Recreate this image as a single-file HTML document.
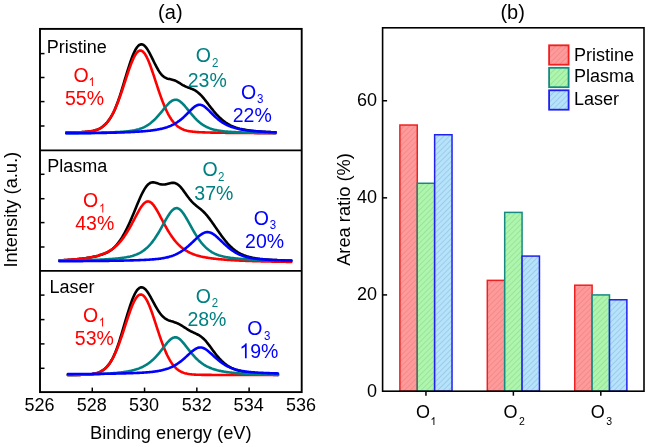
<!DOCTYPE html>
<html><head><meta charset="utf-8"><style>
html,body{margin:0;padding:0;background:#fff;}
body{width:648px;height:447px;overflow:hidden;font-family:"Liberation Sans",sans-serif;}
svg{display:block;will-change:transform;}
</style></head><body>
<svg width="648" height="447" viewBox="0 0 648 447" font-family="Liberation Sans, sans-serif">
<defs>
<pattern id="hr" patternUnits="userSpaceOnUse" width="3.9" height="3.9" patternTransform="rotate(45)"><rect width="3.9" height="3.9" fill="#ff9a9a"/><line x1="0.5" y1="0" x2="0.5" y2="3.9" stroke="#ee8888" stroke-width="0.8"/></pattern>
<pattern id="hg" patternUnits="userSpaceOnUse" width="3.9" height="3.9" patternTransform="rotate(45)"><rect width="3.9" height="3.9" fill="#aef5ae"/><line x1="0.5" y1="0" x2="0.5" y2="3.9" stroke="#96df96" stroke-width="0.8"/></pattern>
<pattern id="hb" patternUnits="userSpaceOnUse" width="3.9" height="3.9" patternTransform="rotate(45)"><rect width="3.9" height="3.9" fill="#b6e3fb"/><line x1="0.5" y1="0" x2="0.5" y2="3.9" stroke="#96c6e6" stroke-width="0.8"/></pattern>
</defs>
<rect width="648" height="447" fill="#fff"/>
<path d="M66.30,132.66 L67.18,132.64 L68.05,132.62 L68.93,132.61 L69.80,132.59 L70.68,132.57 L71.55,132.54 L72.43,132.52 L73.31,132.50 L74.18,132.47 L75.06,132.45 L75.93,132.42 L76.81,132.39 L77.68,132.36 L78.56,132.33 L79.44,132.29 L80.31,132.25 L81.19,132.21 L82.06,132.16 L82.94,132.11 L83.81,132.05 L84.69,131.99 L85.57,131.92 L86.44,131.84 L87.32,131.76 L88.19,131.66 L89.07,131.55 L89.94,131.43 L90.82,131.29 L91.70,131.14 L92.57,130.97 L93.45,130.77 L94.32,130.55 L95.20,130.31 L96.07,130.03 L96.95,129.73 L97.83,129.38 L98.70,129.00 L99.58,128.57 L100.45,128.09 L101.33,127.56 L102.21,126.97 L103.08,126.32 L103.96,125.60 L104.83,124.81 L105.71,123.94 L106.58,123.00 L107.46,121.97 L108.34,120.85 L109.21,119.65 L110.09,118.35 L110.96,116.95 L111.84,115.44 L112.71,113.82 L113.59,112.08 L114.47,110.22 L115.34,108.22 L116.22,106.09 L117.09,103.84 L117.97,101.45 L118.84,98.94 L119.72,96.32 L120.60,93.60 L121.47,90.80 L122.35,87.93 L123.22,85.04 L124.10,82.13 L124.97,79.22 L125.85,76.31 L126.73,73.42 L127.60,70.57 L128.48,67.77 L129.35,65.05 L130.23,62.42 L131.10,59.91 L131.98,57.53 L132.86,55.31 L133.73,53.25 L134.61,51.38 L135.48,49.70 L136.36,48.24 L137.23,47.00 L138.11,45.99 L138.99,45.22 L139.86,44.69 L140.74,44.40 L141.61,44.34 L142.49,44.52 L143.36,44.92 L144.24,45.53 L145.12,46.35 L145.99,47.36 L146.87,48.54 L147.74,49.87 L148.62,51.33 L149.49,52.91 L150.37,54.57 L151.25,56.30 L152.12,58.08 L153.00,59.88 L153.87,61.69 L154.75,63.47 L155.62,65.20 L156.50,66.88 L157.38,68.48 L158.25,69.99 L159.13,71.39 L160.00,72.67 L160.88,73.82 L161.75,74.85 L162.63,75.74 L163.51,76.50 L164.38,77.14 L165.26,77.66 L166.13,78.08 L167.01,78.41 L167.88,78.68 L168.76,78.89 L169.64,79.07 L170.51,79.24 L171.39,79.43 L172.26,79.64 L173.14,79.88 L174.02,80.17 L174.89,80.52 L175.77,80.92 L176.64,81.36 L177.52,81.84 L178.39,82.36 L179.27,82.90 L180.15,83.44 L181.02,83.99 L181.90,84.52 L182.77,85.03 L183.65,85.51 L184.52,85.96 L185.40,86.39 L186.28,86.78 L187.15,87.14 L188.03,87.48 L188.90,87.81 L189.78,88.13 L190.65,88.45 L191.53,88.78 L192.41,89.14 L193.28,89.53 L194.16,89.95 L195.03,90.43 L195.91,90.96 L196.78,91.55 L197.66,92.20 L198.54,92.92 L199.41,93.71 L200.29,94.55 L201.16,95.46 L202.04,96.41 L202.91,97.42 L203.79,98.46 L204.67,99.54 L205.54,100.65 L206.42,101.77 L207.29,102.91 L208.17,104.06 L209.04,105.20 L209.92,106.34 L210.80,107.47 L211.67,108.58 L212.55,109.68 L213.42,110.75 L214.30,111.80 L215.17,112.82 L216.05,113.81 L216.93,114.77 L217.80,115.69 L218.68,116.59 L219.55,117.45 L220.43,118.27 L221.30,119.06 L222.18,119.82 L223.06,120.54 L223.93,121.22 L224.81,121.88 L225.68,122.50 L226.56,123.08 L227.43,123.64 L228.31,124.16 L229.19,124.65 L230.06,125.12 L230.94,125.56 L231.81,125.97 L232.69,126.35 L233.56,126.72 L234.44,127.06 L235.32,127.38 L236.19,127.68 L237.07,127.96 L237.94,128.22 L238.82,128.46 L239.69,128.70 L240.57,128.91 L241.45,129.11 L242.32,129.30 L243.20,129.48 L244.07,129.65 L244.95,129.81 L245.83,129.96 L246.70,130.10 L247.58,130.23 L248.45,130.35 L249.33,130.47 L250.20,130.58 L251.08,130.69 L251.96,130.79 L252.83,130.89 L253.71,130.98 L254.58,131.07 L255.46,131.15 L256.33,131.23 L257.21,131.31 L258.09,131.38 L258.96,131.45 L259.84,131.52 L260.71,131.58 L261.59,131.65 L262.46,131.71 L263.34,131.77 L264.22,131.82 L265.09,131.88 L265.97,131.93 L266.84,131.98 L267.72,132.03 L268.59,132.08 L269.47,132.13 L270.35,132.17 L271.22,132.21 L272.10,132.26 L272.97,132.30 L273.85,132.34 L274.72,132.38 L275.60,132.42" stroke="#000" stroke-width="2.6" fill="none" stroke-linejoin="round" stroke-linecap="round"/>
<path d="M66.30,132.66 L67.18,132.64 L68.05,132.62 L68.93,132.61 L69.80,132.59 L70.68,132.57 L71.55,132.54 L72.43,132.52 L73.31,132.50 L74.18,132.47 L75.06,132.45 L75.93,132.42 L76.81,132.39 L77.68,132.36 L78.56,132.33 L79.44,132.29 L80.31,132.25 L81.19,132.21 L82.06,132.16 L82.94,132.11 L83.81,132.05 L84.69,131.99 L85.57,131.92 L86.44,131.84 L87.32,131.76 L88.19,131.66 L89.07,131.55 L89.94,131.43 L90.82,131.29 L91.70,131.14 L92.57,130.97 L93.45,130.77 L94.32,130.55 L95.20,130.31 L96.07,130.03 L96.95,129.73 L97.83,129.38 L98.70,129.00 L99.58,128.57 L100.45,128.09 L101.33,127.56 L102.21,126.97 L103.08,126.32 L103.96,125.60 L104.83,124.81 L105.71,123.94 L106.58,123.00 L107.46,121.97 L108.34,120.85 L109.21,119.64 L110.09,118.33 L110.96,116.92 L111.84,115.42 L112.71,113.81 L113.59,112.09 L114.47,110.27 L115.34,108.35 L116.22,106.33 L117.09,104.20 L117.97,101.99 L118.84,99.68 L119.72,97.29 L120.60,94.83 L121.47,92.30 L122.35,89.72 L123.22,87.09 L124.10,84.43 L124.97,81.75 L125.85,79.07 L126.73,76.40 L127.60,73.77 L128.48,71.18 L129.35,68.67 L130.23,66.23 L131.10,63.91 L131.98,61.71 L132.86,59.66 L133.73,57.77 L134.61,56.07 L135.48,54.57 L136.36,53.29 L137.23,52.24 L138.11,51.44 L138.99,50.89 L139.86,50.60 L140.74,50.58 L141.61,50.82 L142.49,51.32 L143.36,52.08 L144.24,53.09 L145.12,54.33 L145.99,55.79 L146.87,57.46 L147.74,59.32 L148.62,61.34 L149.49,63.52 L150.37,65.82 L151.25,68.23 L152.12,70.74 L153.00,73.31 L153.87,75.94 L154.75,78.60 L155.62,81.28 L156.50,83.96 L157.38,86.62 L158.25,89.26 L159.13,91.85 L160.00,94.39 L160.88,96.87 L161.75,99.27 L162.63,101.59 L163.51,103.82 L164.38,105.96 L165.26,108.00 L166.13,109.94 L167.01,111.78 L167.88,113.51 L168.76,115.14 L169.64,116.67 L170.51,118.09 L171.39,119.42 L172.26,120.65 L173.14,121.78 L174.02,122.83 L174.89,123.79 L175.77,124.66 L176.64,125.47 L177.52,126.20 L178.39,126.86 L179.27,127.46 L180.15,128.00 L181.02,128.49 L181.90,128.92 L182.77,129.32 L183.65,129.67 L184.52,129.98 L185.40,130.26 L186.28,130.51 L187.15,130.74 L188.03,130.93 L188.90,131.11 L189.78,131.27 L190.65,131.41 L191.53,131.53 L192.41,131.64 L193.28,131.74 L194.16,131.83 L195.03,131.91 L195.91,131.98 L196.78,132.04 L197.66,132.10 L198.54,132.15 L199.41,132.20 L200.29,132.24 L201.16,132.28 L202.04,132.32 L202.91,132.35 L203.79,132.39 L204.67,132.42 L205.54,132.44 L206.42,132.47 L207.29,132.50 L208.17,132.52 L209.04,132.54 L209.92,132.56 L210.80,132.58 L211.67,132.60 L212.55,132.62 L213.42,132.64 L214.30,132.66 L215.17,132.67 L216.05,132.69 L216.93,132.70 L217.80,132.72 L218.68,132.73 L219.55,132.75 L220.43,132.76 L221.30,132.77 L222.18,132.79 L223.06,132.80 L223.93,132.81 L224.81,132.82 L225.68,132.83 L226.56,132.85 L227.43,132.86 L228.31,132.87 L229.19,132.88 L230.06,132.89 L230.94,132.90 L231.81,132.90 L232.69,132.91 L233.56,132.92 L234.44,132.93 L235.32,132.94 L236.19,132.95 L237.07,132.96 L237.94,132.96 L238.82,132.97 L239.69,132.98 L240.57,132.98 L241.45,132.99 L242.32,133.00 L243.20,133.00 L244.07,133.01 L244.95,133.02 L245.83,133.02 L246.70,133.03 L247.58,133.04 L248.45,133.04 L249.33,133.05 L250.20,133.05 L251.08,133.06 L251.96,133.06 L252.83,133.07 L253.71,133.07 L254.58,133.08 L255.46,133.08 L256.33,133.09 L257.21,133.09 L258.09,133.10 L258.96,133.10 L259.84,133.10 L260.71,133.11 L261.59,133.11 L262.46,133.12 L263.34,133.12 L264.22,133.12 L265.09,133.13 L265.97,133.13 L266.84,133.14 L267.72,133.14 L268.59,133.14 L269.47,133.15 L270.35,133.15 L271.22,133.15 L272.10,133.16 L272.97,133.16 L273.85,133.16 L274.72,133.17 L275.60,133.17" stroke="#ff0000" stroke-width="2.6" fill="none" stroke-linejoin="round" stroke-linecap="round"/>
<path d="M66.30,133.21 L67.18,133.20 L68.05,133.19 L68.93,133.18 L69.80,133.17 L70.68,133.16 L71.55,133.16 L72.43,133.15 L73.31,133.14 L74.18,133.13 L75.06,133.12 L75.93,133.11 L76.81,133.10 L77.68,133.09 L78.56,133.08 L79.44,133.07 L80.31,133.06 L81.19,133.04 L82.06,133.03 L82.94,133.02 L83.81,133.01 L84.69,133.00 L85.57,132.98 L86.44,132.97 L87.32,132.96 L88.19,132.94 L89.07,132.93 L89.94,132.91 L90.82,132.90 L91.70,132.88 L92.57,132.86 L93.45,132.85 L94.32,132.83 L95.20,132.81 L96.07,132.79 L96.95,132.77 L97.83,132.75 L98.70,132.73 L99.58,132.71 L100.45,132.69 L101.33,132.67 L102.21,132.64 L103.08,132.62 L103.96,132.59 L104.83,132.57 L105.71,132.54 L106.58,132.51 L107.46,132.49 L108.34,132.46 L109.21,132.43 L110.09,132.39 L110.96,132.36 L111.84,132.32 L112.71,132.29 L113.59,132.25 L114.47,132.21 L115.34,132.17 L116.22,132.13 L117.09,132.08 L117.97,132.03 L118.84,131.98 L119.72,131.93 L120.60,131.88 L121.47,131.82 L122.35,131.76 L123.22,131.69 L124.10,131.62 L124.97,131.54 L125.85,131.46 L126.73,131.38 L127.60,131.29 L128.48,131.19 L129.35,131.08 L130.23,130.97 L131.10,130.84 L131.98,130.71 L132.86,130.56 L133.73,130.41 L134.61,130.24 L135.48,130.05 L136.36,129.85 L137.23,129.63 L138.11,129.39 L138.99,129.14 L139.86,128.86 L140.74,128.56 L141.61,128.23 L142.49,127.88 L143.36,127.50 L144.24,127.09 L145.12,126.65 L145.99,126.18 L146.87,125.67 L147.74,125.13 L148.62,124.56 L149.49,123.94 L150.37,123.29 L151.25,122.60 L152.12,121.87 L153.00,121.10 L153.87,120.29 L154.75,119.45 L155.62,118.57 L156.50,117.65 L157.38,116.70 L158.25,115.72 L159.13,114.71 L160.00,113.68 L160.88,112.63 L161.75,111.56 L162.63,110.49 L163.51,109.41 L164.38,108.34 L165.26,107.28 L166.13,106.25 L167.01,105.25 L167.88,104.29 L168.76,103.40 L169.64,102.57 L170.51,101.83 L171.39,101.19 L172.26,100.64 L173.14,100.22 L174.02,99.92 L174.89,99.75 L175.77,99.71 L176.64,99.81 L177.52,100.04 L178.39,100.40 L179.27,100.88 L180.15,101.48 L181.02,102.17 L181.90,102.95 L182.77,103.81 L183.65,104.73 L184.52,105.71 L185.40,106.73 L186.28,107.77 L187.15,108.84 L188.03,109.91 L188.90,110.99 L189.78,112.06 L190.65,113.12 L191.53,114.17 L192.41,115.19 L193.28,116.18 L194.16,117.15 L195.03,118.09 L195.91,118.99 L196.78,119.85 L197.66,120.68 L198.54,121.46 L199.41,122.22 L200.29,122.93 L201.16,123.60 L202.04,124.23 L202.91,124.83 L203.79,125.39 L204.67,125.92 L205.54,126.41 L206.42,126.86 L207.29,127.29 L208.17,127.68 L209.04,128.05 L209.92,128.39 L210.80,128.70 L211.67,128.99 L212.55,129.26 L213.42,129.51 L214.30,129.74 L215.17,129.95 L216.05,130.14 L216.93,130.32 L217.80,130.48 L218.68,130.63 L219.55,130.77 L220.43,130.90 L221.30,131.02 L222.18,131.13 L223.06,131.23 L223.93,131.33 L224.81,131.42 L225.68,131.50 L226.56,131.58 L227.43,131.65 L228.31,131.72 L229.19,131.78 L230.06,131.85 L230.94,131.90 L231.81,131.96 L232.69,132.01 L233.56,132.06 L234.44,132.10 L235.32,132.15 L236.19,132.19 L237.07,132.23 L237.94,132.27 L238.82,132.31 L239.69,132.34 L240.57,132.38 L241.45,132.41 L242.32,132.44 L243.20,132.47 L244.07,132.50 L244.95,132.53 L245.83,132.55 L246.70,132.58 L247.58,132.61 L248.45,132.63 L249.33,132.65 L250.20,132.68 L251.08,132.70 L251.96,132.72 L252.83,132.74 L253.71,132.76 L254.58,132.78 L255.46,132.80 L256.33,132.82 L257.21,132.84 L258.09,132.85 L258.96,132.87 L259.84,132.89 L260.71,132.90 L261.59,132.92 L262.46,132.93 L263.34,132.95 L264.22,132.96 L265.09,132.98 L265.97,132.99 L266.84,133.00 L267.72,133.01 L268.59,133.03 L269.47,133.04 L270.35,133.05 L271.22,133.06 L272.10,133.07 L272.97,133.08 L273.85,133.09 L274.72,133.10 L275.60,133.11" stroke="#008080" stroke-width="2.6" fill="none" stroke-linejoin="round" stroke-linecap="round"/>
<path d="M66.30,133.32 L67.18,133.32 L68.05,133.31 L68.93,133.30 L69.80,133.30 L70.68,133.29 L71.55,133.28 L72.43,133.28 L73.31,133.27 L74.18,133.26 L75.06,133.25 L75.93,133.25 L76.81,133.24 L77.68,133.23 L78.56,133.22 L79.44,133.21 L80.31,133.20 L81.19,133.20 L82.06,133.19 L82.94,133.18 L83.81,133.17 L84.69,133.16 L85.57,133.15 L86.44,133.14 L87.32,133.13 L88.19,133.12 L89.07,133.11 L89.94,133.10 L90.82,133.09 L91.70,133.07 L92.57,133.06 L93.45,133.05 L94.32,133.04 L95.20,133.02 L96.07,133.01 L96.95,133.00 L97.83,132.98 L98.70,132.97 L99.58,132.96 L100.45,132.94 L101.33,132.93 L102.21,132.91 L103.08,132.90 L103.96,132.88 L104.83,132.86 L105.71,132.85 L106.58,132.83 L107.46,132.81 L108.34,132.79 L109.21,132.77 L110.09,132.75 L110.96,132.73 L111.84,132.71 L112.71,132.69 L113.59,132.67 L114.47,132.65 L115.34,132.62 L116.22,132.60 L117.09,132.57 L117.97,132.55 L118.84,132.52 L119.72,132.50 L120.60,132.47 L121.47,132.44 L122.35,132.41 L123.22,132.38 L124.10,132.35 L124.97,132.31 L125.85,132.28 L126.73,132.25 L127.60,132.21 L128.48,132.17 L129.35,132.13 L130.23,132.09 L131.10,132.05 L131.98,132.01 L132.86,131.97 L133.73,131.92 L134.61,131.87 L135.48,131.82 L136.36,131.77 L137.23,131.72 L138.11,131.66 L138.99,131.61 L139.86,131.55 L140.74,131.48 L141.61,131.42 L142.49,131.35 L143.36,131.28 L144.24,131.21 L145.12,131.13 L145.99,131.05 L146.87,130.97 L147.74,130.88 L148.62,130.79 L149.49,130.69 L150.37,130.59 L151.25,130.48 L152.12,130.37 L153.00,130.25 L153.87,130.13 L154.75,130.00 L155.62,129.86 L156.50,129.72 L157.38,129.57 L158.25,129.40 L159.13,129.23 L160.00,129.05 L160.88,128.86 L161.75,128.66 L162.63,128.45 L163.51,128.22 L164.38,127.98 L165.26,127.72 L166.13,127.45 L167.01,127.17 L167.88,126.86 L168.76,126.54 L169.64,126.19 L170.51,125.83 L171.39,125.44 L172.26,125.03 L173.14,124.60 L174.02,124.14 L174.89,123.66 L175.77,123.14 L176.64,122.60 L177.52,122.03 L178.39,121.43 L179.27,120.80 L180.15,120.13 L181.02,119.44 L181.90,118.71 L182.77,117.96 L183.65,117.17 L184.52,116.35 L185.40,115.51 L186.28,114.65 L187.15,113.77 L188.03,112.88 L188.90,111.99 L189.78,111.09 L190.65,110.21 L191.53,109.36 L192.41,108.54 L193.28,107.76 L194.16,107.05 L195.03,106.42 L195.91,105.87 L196.78,105.42 L197.66,105.09 L198.54,104.87 L199.41,104.78 L200.29,104.82 L201.16,104.98 L202.04,105.26 L202.91,105.66 L203.79,106.16 L204.67,106.76 L205.54,107.44 L206.42,108.19 L207.29,108.99 L208.17,109.83 L209.04,110.70 L209.92,111.59 L210.80,112.48 L211.67,113.38 L212.55,114.26 L213.42,115.13 L214.30,115.98 L215.17,116.81 L216.05,117.61 L216.93,118.38 L217.80,119.12 L218.68,119.83 L219.55,120.51 L220.43,121.15 L221.30,121.77 L222.18,122.35 L223.06,122.91 L223.93,123.43 L224.81,123.93 L225.68,124.40 L226.56,124.85 L227.43,125.26 L228.31,125.66 L229.19,126.03 L230.06,126.39 L230.94,126.72 L231.81,127.03 L232.69,127.33 L233.56,127.61 L234.44,127.87 L235.32,128.11 L236.19,128.35 L237.07,128.57 L237.94,128.77 L238.82,128.97 L239.69,129.16 L240.57,129.33 L241.45,129.50 L242.32,129.65 L243.20,129.80 L244.07,129.94 L244.95,130.07 L245.83,130.20 L246.70,130.32 L247.58,130.43 L248.45,130.54 L249.33,130.65 L250.20,130.74 L251.08,130.84 L251.96,130.93 L252.83,131.01 L253.71,131.09 L254.58,131.17 L255.46,131.25 L256.33,131.32 L257.21,131.39 L258.09,131.45 L258.96,131.52 L259.84,131.58 L260.71,131.64 L261.59,131.69 L262.46,131.75 L263.34,131.80 L264.22,131.85 L265.09,131.90 L265.97,131.95 L266.84,131.99 L267.72,132.03 L268.59,132.08 L269.47,132.12 L270.35,132.16 L271.22,132.19 L272.10,132.23 L272.97,132.27 L273.85,132.30 L274.72,132.33 L275.60,132.36" stroke="#0000ff" stroke-width="2.6" fill="none" stroke-linejoin="round" stroke-linecap="round"/>
<path d="M59.40,260.43 L60.37,260.38 L61.34,260.32 L62.31,260.27 L63.28,260.21 L64.25,260.15 L65.22,260.09 L66.19,260.03 L67.16,259.97 L68.13,259.90 L69.10,259.83 L70.07,259.76 L71.04,259.69 L72.01,259.61 L72.98,259.53 L73.95,259.45 L74.92,259.37 L75.89,259.28 L76.87,259.19 L77.84,259.09 L78.81,258.99 L79.78,258.89 L80.75,258.78 L81.72,258.67 L82.69,258.56 L83.66,258.43 L84.63,258.31 L85.60,258.17 L86.57,258.03 L87.54,257.89 L88.51,257.73 L89.48,257.57 L90.45,257.40 L91.42,257.22 L92.39,257.04 L93.36,256.84 L94.33,256.63 L95.30,256.40 L96.27,256.17 L97.24,255.91 L98.21,255.65 L99.18,255.36 L100.15,255.06 L101.12,254.75 L102.09,254.42 L103.06,254.08 L104.03,253.72 L105.00,253.34 L105.97,252.93 L106.94,252.48 L107.91,251.99 L108.88,251.45 L109.86,250.85 L110.83,250.20 L111.80,249.47 L112.77,248.67 L113.74,247.80 L114.71,246.85 L115.68,245.83 L116.65,244.75 L117.62,243.59 L118.59,242.36 L119.56,241.05 L120.53,239.66 L121.50,238.19 L122.47,236.63 L123.44,234.99 L124.41,233.27 L125.38,231.47 L126.35,229.59 L127.32,227.63 L128.29,225.60 L129.26,223.50 L130.23,221.34 L131.20,219.12 L132.17,216.85 L133.14,214.54 L134.11,212.19 L135.08,209.83 L136.05,207.47 L137.02,205.11 L137.99,202.77 L138.96,200.48 L139.93,198.24 L140.90,196.09 L141.87,194.03 L142.85,192.09 L143.82,190.30 L144.79,188.65 L145.76,187.19 L146.73,185.91 L147.70,184.82 L148.67,183.94 L149.64,183.26 L150.61,182.77 L151.58,182.47 L152.55,182.34 L153.52,182.35 L154.49,182.47 L155.46,182.69 L156.43,182.98 L157.40,183.29 L158.37,183.61 L159.34,183.91 L160.31,184.16 L161.28,184.36 L162.25,184.48 L163.22,184.52 L164.19,184.48 L165.16,184.37 L166.13,184.20 L167.10,183.97 L168.07,183.72 L169.04,183.46 L170.01,183.21 L170.98,183.01 L171.95,182.87 L172.92,182.82 L173.89,182.88 L174.86,183.07 L175.84,183.39 L176.81,183.86 L177.78,184.49 L178.75,185.25 L179.72,186.16 L180.69,187.19 L181.66,188.33 L182.63,189.57 L183.60,190.86 L184.57,192.20 L185.54,193.57 L186.51,194.93 L187.48,196.26 L188.45,197.56 L189.42,198.80 L190.39,199.98 L191.36,201.09 L192.33,202.13 L193.30,203.10 L194.27,204.00 L195.24,204.85 L196.21,205.66 L197.18,206.44 L198.15,207.21 L199.12,207.97 L200.09,208.75 L201.06,209.56 L202.03,210.41 L203.00,211.30 L203.97,212.24 L204.94,213.24 L205.91,214.30 L206.88,215.42 L207.85,216.59 L208.83,217.82 L209.80,219.09 L210.77,220.41 L211.74,221.76 L212.71,223.14 L213.68,224.53 L214.65,225.95 L215.62,227.37 L216.59,228.79 L217.56,230.21 L218.53,231.61 L219.50,233.00 L220.47,234.37 L221.44,235.71 L222.41,237.02 L223.38,238.29 L224.35,239.53 L225.32,240.73 L226.29,241.89 L227.26,243.01 L228.23,244.08 L229.20,245.10 L230.17,246.08 L231.14,247.01 L232.11,247.90 L233.08,248.74 L234.05,249.53 L235.02,250.28 L235.99,250.98 L236.96,251.64 L237.93,252.26 L238.90,252.84 L239.87,253.39 L240.84,253.89 L241.82,254.36 L242.79,254.80 L243.76,255.21 L244.73,255.58 L245.70,255.93 L246.67,256.26 L247.64,256.56 L248.61,256.84 L249.58,257.09 L250.55,257.33 L251.52,257.55 L252.49,257.75 L253.46,257.94 L254.43,258.12 L255.40,258.28 L256.37,258.43 L257.34,258.57 L258.31,258.70 L259.28,258.83 L260.25,258.94 L261.22,259.05 L262.19,259.15 L263.16,259.24 L264.13,259.33 L265.10,259.42 L266.07,259.50 L267.04,259.57 L268.01,259.64 L268.98,259.71 L269.95,259.78 L270.92,259.84 L271.89,259.90 L272.86,259.96 L273.83,260.01 L274.81,260.06 L275.78,260.11 L276.75,260.16 L277.72,260.21 L278.69,260.26 L279.66,260.30 L280.63,260.34 L281.60,260.38 L282.57,260.42 L283.54,260.46 L284.51,260.50 L285.48,260.54 L286.45,260.57 L287.42,260.61 L288.39,260.64 L289.36,260.67 L290.33,260.71 L291.30,260.74" stroke="#000" stroke-width="2.6" fill="none" stroke-linejoin="round" stroke-linecap="round"/>
<path d="M59.40,260.43 L60.37,260.38 L61.34,260.32 L62.31,260.27 L63.28,260.21 L64.25,260.15 L65.22,260.09 L66.19,260.03 L67.16,259.97 L68.13,259.90 L69.10,259.83 L70.07,259.76 L71.04,259.69 L72.01,259.61 L72.98,259.53 L73.95,259.45 L74.92,259.37 L75.89,259.28 L76.87,259.19 L77.84,259.09 L78.81,258.99 L79.78,258.89 L80.75,258.78 L81.72,258.67 L82.69,258.56 L83.66,258.43 L84.63,258.31 L85.60,258.17 L86.57,258.03 L87.54,257.89 L88.51,257.73 L89.48,257.57 L90.45,257.40 L91.42,257.22 L92.39,257.04 L93.36,256.84 L94.33,256.63 L95.30,256.40 L96.27,256.17 L97.24,255.91 L98.21,255.65 L99.18,255.36 L100.15,255.06 L101.12,254.74 L102.09,254.40 L103.06,254.03 L104.03,253.64 L105.00,253.23 L105.97,252.78 L106.94,252.31 L107.91,251.80 L108.88,251.26 L109.86,250.69 L110.83,250.07 L111.80,249.42 L112.77,248.72 L113.74,247.97 L114.71,247.18 L115.68,246.34 L116.65,245.45 L117.62,244.51 L118.59,243.50 L119.56,242.45 L120.53,241.33 L121.50,240.15 L122.47,238.91 L123.44,237.61 L124.41,236.25 L125.38,234.82 L126.35,233.33 L127.32,231.78 L128.29,230.18 L129.26,228.52 L130.23,226.81 L131.20,225.05 L132.17,223.25 L133.14,221.43 L134.11,219.58 L135.08,217.73 L136.05,215.88 L137.02,214.05 L137.99,212.26 L138.96,210.53 L139.93,208.89 L140.90,207.35 L141.87,205.94 L142.85,204.68 L143.82,203.60 L144.79,202.71 L145.76,202.05 L146.73,201.61 L147.70,201.41 L148.67,201.45 L149.64,201.74 L150.61,202.27 L151.58,203.02 L152.55,203.98 L153.52,205.13 L154.49,206.44 L155.46,207.91 L156.43,209.49 L157.40,211.17 L158.37,212.92 L159.34,214.72 L160.31,216.56 L161.28,218.42 L162.25,220.27 L163.22,222.11 L164.19,223.92 L165.16,225.71 L166.13,227.45 L167.10,229.14 L168.07,230.78 L169.04,232.37 L170.01,233.89 L170.98,235.36 L171.95,236.76 L172.92,238.10 L173.89,239.38 L174.86,240.59 L175.84,241.75 L176.81,242.84 L177.78,243.88 L178.75,244.86 L179.72,245.79 L180.69,246.66 L181.66,247.48 L182.63,248.26 L183.60,248.98 L184.57,249.66 L185.54,250.30 L186.51,250.91 L187.48,251.47 L188.45,252.00 L189.42,252.49 L190.39,252.95 L191.36,253.38 L192.33,253.79 L193.30,254.17 L194.27,254.53 L195.24,254.86 L196.21,255.18 L197.18,255.47 L198.15,255.75 L199.12,256.01 L200.09,256.25 L201.06,256.49 L202.03,256.70 L203.00,256.91 L203.97,257.11 L204.94,257.29 L205.91,257.47 L206.88,257.63 L207.85,257.79 L208.83,257.94 L209.80,258.09 L210.77,258.22 L211.74,258.36 L212.71,258.48 L213.68,258.60 L214.65,258.71 L215.62,258.82 L216.59,258.93 L217.56,259.03 L218.53,259.13 L219.50,259.22 L220.47,259.31 L221.44,259.40 L222.41,259.48 L223.38,259.56 L224.35,259.64 L225.32,259.72 L226.29,259.79 L227.26,259.86 L228.23,259.93 L229.20,259.99 L230.17,260.06 L231.14,260.12 L232.11,260.18 L233.08,260.23 L234.05,260.29 L235.02,260.34 L235.99,260.40 L236.96,260.45 L237.93,260.50 L238.90,260.54 L239.87,260.59 L240.84,260.63 L241.82,260.68 L242.79,260.72 L243.76,260.76 L244.73,260.80 L245.70,260.84 L246.67,260.88 L247.64,260.92 L248.61,260.95 L249.58,260.99 L250.55,261.02 L251.52,261.05 L252.49,261.09 L253.46,261.12 L254.43,261.15 L255.40,261.18 L256.37,261.21 L257.34,261.23 L258.31,261.26 L259.28,261.29 L260.25,261.31 L261.22,261.34 L262.19,261.37 L263.16,261.39 L264.13,261.41 L265.10,261.44 L266.07,261.46 L267.04,261.48 L268.01,261.50 L268.98,261.52 L269.95,261.54 L270.92,261.56 L271.89,261.58 L272.86,261.60 L273.83,261.62 L274.81,261.64 L275.78,261.66 L276.75,261.68 L277.72,261.69 L278.69,261.71 L279.66,261.73 L280.63,261.74 L281.60,261.76 L282.57,261.77 L283.54,261.79 L284.51,261.80 L285.48,261.82 L286.45,261.83 L287.42,261.85 L288.39,261.86 L289.36,261.87 L290.33,261.89 L291.30,261.90" stroke="#ff0000" stroke-width="2.6" fill="none" stroke-linejoin="round" stroke-linecap="round"/>
<path d="M59.40,260.70 L60.37,260.69 L61.34,260.67 L62.31,260.66 L63.28,260.64 L64.25,260.63 L65.22,260.61 L66.19,260.60 L67.16,260.58 L68.13,260.56 L69.10,260.55 L70.07,260.53 L71.04,260.51 L72.01,260.49 L72.98,260.47 L73.95,260.45 L74.92,260.43 L75.89,260.41 L76.87,260.39 L77.84,260.37 L78.81,260.35 L79.78,260.32 L80.75,260.30 L81.72,260.28 L82.69,260.25 L83.66,260.22 L84.63,260.20 L85.60,260.17 L86.57,260.14 L87.54,260.11 L88.51,260.08 L89.48,260.05 L90.45,260.02 L91.42,259.99 L92.39,259.95 L93.36,259.92 L94.33,259.88 L95.30,259.84 L96.27,259.80 L97.24,259.76 L98.21,259.72 L99.18,259.68 L100.15,259.63 L101.12,259.58 L102.09,259.54 L103.06,259.49 L104.03,259.43 L105.00,259.38 L105.97,259.32 L106.94,259.27 L107.91,259.20 L108.88,259.14 L109.86,259.07 L110.83,259.01 L111.80,258.93 L112.77,258.86 L113.74,258.78 L114.71,258.70 L115.68,258.61 L116.65,258.52 L117.62,258.42 L118.59,258.32 L119.56,258.21 L120.53,258.10 L121.50,257.98 L122.47,257.85 L123.44,257.71 L124.41,257.56 L125.38,257.41 L126.35,257.24 L127.32,257.06 L128.29,256.86 L129.26,256.65 L130.23,256.43 L131.20,256.18 L132.17,255.92 L133.14,255.63 L134.11,255.32 L135.08,254.98 L136.05,254.62 L137.02,254.22 L137.99,253.79 L138.96,253.33 L139.93,252.82 L140.90,252.28 L141.87,251.69 L142.85,251.05 L143.82,250.37 L144.79,249.63 L145.76,248.84 L146.73,247.99 L147.70,247.09 L148.67,246.12 L149.64,245.09 L150.61,244.00 L151.58,242.84 L152.55,241.62 L153.52,240.33 L154.49,238.98 L155.46,237.56 L156.43,236.09 L157.40,234.55 L158.37,232.97 L159.34,231.33 L160.31,229.65 L161.28,227.94 L162.25,226.20 L163.22,224.44 L164.19,222.68 L165.16,220.94 L166.13,219.22 L167.10,217.55 L168.07,215.95 L169.04,214.43 L170.01,213.03 L170.98,211.76 L171.95,210.65 L172.92,209.72 L173.89,208.99 L174.86,208.48 L175.84,208.20 L176.81,208.14 L177.78,208.33 L178.75,208.74 L179.72,209.38 L180.69,210.23 L181.66,211.26 L182.63,212.46 L183.60,213.81 L184.57,215.28 L185.54,216.84 L186.51,218.49 L187.48,220.19 L188.45,221.92 L189.42,223.68 L190.39,225.44 L191.36,227.18 L192.33,228.91 L193.30,230.61 L194.27,232.26 L195.24,233.87 L196.21,235.43 L197.18,236.93 L198.15,238.37 L199.12,239.75 L200.09,241.07 L201.06,242.32 L202.03,243.50 L203.00,244.62 L203.97,245.68 L204.94,246.68 L205.91,247.61 L206.88,248.48 L207.85,249.30 L208.83,250.06 L209.80,250.76 L210.77,251.42 L211.74,252.03 L212.71,252.59 L213.68,253.11 L214.65,253.59 L215.62,254.04 L216.59,254.45 L217.56,254.83 L218.53,255.18 L219.50,255.50 L220.47,255.79 L221.44,256.07 L222.41,256.32 L223.38,256.56 L224.35,256.77 L225.32,256.97 L226.29,257.16 L227.26,257.33 L228.23,257.50 L229.20,257.65 L230.17,257.79 L231.14,257.92 L232.11,258.05 L233.08,258.16 L234.05,258.27 L235.02,258.38 L235.99,258.48 L236.96,258.57 L237.93,258.66 L238.90,258.74 L239.87,258.82 L240.84,258.90 L241.82,258.98 L242.79,259.05 L243.76,259.11 L244.73,259.18 L245.70,259.24 L246.67,259.30 L247.64,259.36 L248.61,259.41 L249.58,259.46 L250.55,259.51 L251.52,259.56 L252.49,259.61 L253.46,259.66 L254.43,259.70 L255.40,259.74 L256.37,259.78 L257.34,259.82 L258.31,259.86 L259.28,259.90 L260.25,259.94 L261.22,259.97 L262.19,260.00 L263.16,260.04 L264.13,260.07 L265.10,260.10 L266.07,260.13 L267.04,260.16 L268.01,260.19 L268.98,260.21 L269.95,260.24 L270.92,260.27 L271.89,260.29 L272.86,260.31 L273.83,260.34 L274.81,260.36 L275.78,260.38 L276.75,260.40 L277.72,260.43 L278.69,260.45 L279.66,260.47 L280.63,260.49 L281.60,260.50 L282.57,260.52 L283.54,260.54 L284.51,260.56 L285.48,260.57 L286.45,260.59 L287.42,260.61 L288.39,260.62 L289.36,260.64 L290.33,260.65 L291.30,260.67" stroke="#008080" stroke-width="2.6" fill="none" stroke-linejoin="round" stroke-linecap="round"/>
<path d="M59.40,261.20 L60.37,261.20 L61.34,261.20 L62.31,261.19 L63.28,261.19 L64.25,261.18 L65.22,261.18 L66.19,261.17 L67.16,261.17 L68.13,261.16 L69.10,261.16 L70.07,261.15 L71.04,261.15 L72.01,261.14 L72.98,261.14 L73.95,261.13 L74.92,261.13 L75.89,261.12 L76.87,261.12 L77.84,261.11 L78.81,261.11 L79.78,261.10 L80.75,261.09 L81.72,261.09 L82.69,261.08 L83.66,261.07 L84.63,261.07 L85.60,261.06 L86.57,261.05 L87.54,261.04 L88.51,261.04 L89.48,261.03 L90.45,261.02 L91.42,261.01 L92.39,261.01 L93.36,261.00 L94.33,260.99 L95.30,260.98 L96.27,260.97 L97.24,260.96 L98.21,260.95 L99.18,260.94 L100.15,260.93 L101.12,260.92 L102.09,260.91 L103.06,260.90 L104.03,260.89 L105.00,260.88 L105.97,260.86 L106.94,260.85 L107.91,260.84 L108.88,260.83 L109.86,260.81 L110.83,260.80 L111.80,260.79 L112.77,260.77 L113.74,260.76 L114.71,260.74 L115.68,260.73 L116.65,260.71 L117.62,260.69 L118.59,260.68 L119.56,260.66 L120.53,260.64 L121.50,260.62 L122.47,260.60 L123.44,260.58 L124.41,260.56 L125.38,260.54 L126.35,260.52 L127.32,260.49 L128.29,260.47 L129.26,260.44 L130.23,260.42 L131.20,260.39 L132.17,260.37 L133.14,260.34 L134.11,260.31 L135.08,260.28 L136.05,260.25 L137.02,260.21 L137.99,260.18 L138.96,260.14 L139.93,260.10 L140.90,260.07 L141.87,260.02 L142.85,259.98 L143.82,259.94 L144.79,259.89 L145.76,259.84 L146.73,259.79 L147.70,259.73 L148.67,259.68 L149.64,259.61 L150.61,259.55 L151.58,259.48 L152.55,259.41 L153.52,259.33 L154.49,259.25 L155.46,259.16 L156.43,259.06 L157.40,258.96 L158.37,258.85 L159.34,258.73 L160.31,258.60 L161.28,258.46 L162.25,258.31 L163.22,258.15 L164.19,257.98 L165.16,257.79 L166.13,257.58 L167.10,257.36 L168.07,257.12 L169.04,256.87 L170.01,256.59 L170.98,256.29 L171.95,255.96 L172.92,255.62 L173.89,255.24 L174.86,254.84 L175.84,254.41 L176.81,253.96 L177.78,253.47 L178.75,252.95 L179.72,252.39 L180.69,251.81 L181.66,251.19 L182.63,250.54 L183.60,249.85 L184.57,249.14 L185.54,248.39 L186.51,247.61 L187.48,246.79 L188.45,245.96 L189.42,245.09 L190.39,244.20 L191.36,243.30 L192.33,242.38 L193.30,241.45 L194.27,240.51 L195.24,239.58 L196.21,238.66 L197.18,237.76 L198.15,236.88 L199.12,236.05 L200.09,235.27 L201.06,234.55 L202.03,233.90 L203.00,233.33 L203.97,232.87 L204.94,232.50 L205.91,232.25 L206.88,232.11 L207.85,232.10 L208.83,232.20 L209.80,232.43 L210.77,232.76 L211.74,233.21 L212.71,233.75 L213.68,234.38 L214.65,235.08 L215.62,235.85 L216.59,236.67 L217.56,237.53 L218.53,238.43 L219.50,239.35 L220.47,240.28 L221.44,241.21 L222.41,242.14 L223.38,243.07 L224.35,243.98 L225.32,244.87 L226.29,245.74 L227.26,246.59 L228.23,247.40 L229.20,248.19 L230.17,248.95 L231.14,249.68 L232.11,250.37 L233.08,251.03 L234.05,251.66 L235.02,252.25 L235.99,252.81 L236.96,253.34 L237.93,253.84 L238.90,254.30 L239.87,254.74 L240.84,255.14 L241.82,255.52 L242.79,255.88 L243.76,256.21 L244.73,256.51 L245.70,256.80 L246.67,257.06 L247.64,257.30 L248.61,257.53 L249.58,257.74 L250.55,257.93 L251.52,258.11 L252.49,258.27 L253.46,258.42 L254.43,258.57 L255.40,258.70 L256.37,258.82 L257.34,258.93 L258.31,259.04 L259.28,259.13 L260.25,259.22 L261.22,259.31 L262.19,259.39 L263.16,259.46 L264.13,259.53 L265.10,259.60 L266.07,259.66 L267.04,259.72 L268.01,259.78 L268.98,259.83 L269.95,259.88 L270.92,259.93 L271.89,259.97 L272.86,260.01 L273.83,260.06 L274.81,260.09 L275.78,260.13 L276.75,260.17 L277.72,260.20 L278.69,260.24 L279.66,260.27 L280.63,260.30 L281.60,260.33 L282.57,260.36 L283.54,260.39 L284.51,260.41 L285.48,260.44 L286.45,260.46 L287.42,260.49 L288.39,260.51 L289.36,260.53 L290.33,260.55 L291.30,260.58" stroke="#0000ff" stroke-width="2.6" fill="none" stroke-linejoin="round" stroke-linecap="round"/>
<path d="M67.90,374.94 L68.78,374.93 L69.66,374.93 L70.54,374.92 L71.42,374.92 L72.30,374.91 L73.17,374.91 L74.05,374.90 L74.93,374.89 L75.81,374.88 L76.69,374.88 L77.57,374.87 L78.45,374.85 L79.33,374.84 L80.21,374.83 L81.09,374.81 L81.97,374.79 L82.84,374.76 L83.72,374.74 L84.60,374.71 L85.48,374.67 L86.36,374.63 L87.24,374.57 L88.12,374.52 L89.00,374.45 L89.88,374.37 L90.76,374.28 L91.64,374.17 L92.51,374.04 L93.39,373.90 L94.27,373.74 L95.15,373.55 L96.03,373.33 L96.91,373.08 L97.79,372.80 L98.67,372.48 L99.55,372.11 L100.43,371.70 L101.31,371.24 L102.18,370.72 L103.06,370.13 L103.94,369.49 L104.82,368.77 L105.70,367.97 L106.58,367.09 L107.46,366.13 L108.34,365.07 L109.22,363.91 L110.10,362.65 L110.97,361.27 L111.85,359.76 L112.73,358.11 L113.61,356.33 L114.49,354.40 L115.37,352.33 L116.25,350.10 L117.13,347.74 L118.01,345.23 L118.89,342.60 L119.77,339.85 L120.64,337.00 L121.52,334.08 L122.40,331.11 L123.28,328.13 L124.16,325.16 L125.04,322.20 L125.92,319.24 L126.80,316.30 L127.68,313.41 L128.56,310.58 L129.44,307.83 L130.31,305.18 L131.19,302.66 L132.07,300.28 L132.95,298.06 L133.83,296.01 L134.71,294.16 L135.59,292.51 L136.47,291.08 L137.35,289.87 L138.23,288.89 L139.11,288.14 L139.98,287.63 L140.86,287.35 L141.74,287.31 L142.62,287.48 L143.50,287.87 L144.38,288.46 L145.26,289.24 L146.14,290.20 L147.02,291.31 L147.90,292.55 L148.78,293.91 L149.65,295.38 L150.53,296.91 L151.41,298.51 L152.29,300.13 L153.17,301.78 L154.05,303.42 L154.93,305.04 L155.81,306.62 L156.69,308.15 L157.57,309.61 L158.45,311.00 L159.32,312.30 L160.20,313.51 L161.08,314.62 L161.96,315.63 L162.84,316.54 L163.72,317.35 L164.60,318.07 L165.48,318.69 L166.36,319.24 L167.24,319.71 L168.12,320.11 L168.99,320.47 L169.87,320.78 L170.75,321.07 L171.63,321.33 L172.51,321.60 L173.39,321.86 L174.27,322.14 L175.15,322.44 L176.03,322.77 L176.91,323.13 L177.78,323.53 L178.66,323.95 L179.54,324.41 L180.42,324.90 L181.30,325.42 L182.18,325.95 L183.06,326.50 L183.94,327.07 L184.82,327.63 L185.70,328.19 L186.58,328.75 L187.45,329.30 L188.33,329.83 L189.21,330.34 L190.09,330.83 L190.97,331.30 L191.85,331.75 L192.73,332.19 L193.61,332.61 L194.49,333.02 L195.37,333.43 L196.25,333.84 L197.12,334.27 L198.00,334.72 L198.88,335.20 L199.76,335.73 L200.64,336.31 L201.52,336.95 L202.40,337.66 L203.28,338.44 L204.16,339.29 L205.04,340.21 L205.92,341.19 L206.79,342.23 L207.67,343.33 L208.55,344.47 L209.43,345.64 L210.31,346.83 L211.19,348.04 L212.07,349.25 L212.95,350.45 L213.83,351.63 L214.71,352.80 L215.59,353.94 L216.46,355.05 L217.34,356.12 L218.22,357.15 L219.10,358.15 L219.98,359.10 L220.86,360.01 L221.74,360.88 L222.62,361.70 L223.50,362.49 L224.38,363.23 L225.26,363.93 L226.13,364.60 L227.01,365.22 L227.89,365.81 L228.77,366.37 L229.65,366.89 L230.53,367.38 L231.41,367.84 L232.29,368.27 L233.17,368.67 L234.05,369.05 L234.93,369.40 L235.80,369.73 L236.68,370.04 L237.56,370.33 L238.44,370.60 L239.32,370.85 L240.20,371.09 L241.08,371.31 L241.96,371.52 L242.84,371.71 L243.72,371.89 L244.59,372.06 L245.47,372.22 L246.35,372.37 L247.23,372.51 L248.11,372.65 L248.99,372.77 L249.87,372.89 L250.75,373.00 L251.63,373.11 L252.51,373.21 L253.39,373.30 L254.26,373.39 L255.14,373.48 L256.02,373.56 L256.90,373.64 L257.78,373.72 L258.66,373.79 L259.54,373.86 L260.42,373.92 L261.30,373.99 L262.18,374.05 L263.06,374.11 L263.93,374.16 L264.81,374.22 L265.69,374.27 L266.57,374.32 L267.45,374.37 L268.33,374.41 L269.21,374.46 L270.09,374.50 L270.97,374.54 L271.85,374.58 L272.73,374.62 L273.60,374.66 L274.48,374.70 L275.36,374.73 L276.24,374.77 L277.12,374.80 L278.00,374.83" stroke="#000" stroke-width="2.6" fill="none" stroke-linejoin="round" stroke-linecap="round"/>
<path d="M67.90,374.94 L68.78,374.93 L69.66,374.93 L70.54,374.92 L71.42,374.92 L72.30,374.91 L73.17,374.91 L74.05,374.90 L74.93,374.89 L75.81,374.88 L76.69,374.88 L77.57,374.87 L78.45,374.85 L79.33,374.84 L80.21,374.83 L81.09,374.81 L81.97,374.79 L82.84,374.76 L83.72,374.74 L84.60,374.71 L85.48,374.67 L86.36,374.63 L87.24,374.57 L88.12,374.52 L89.00,374.45 L89.88,374.37 L90.76,374.28 L91.64,374.17 L92.51,374.04 L93.39,373.90 L94.27,373.74 L95.15,373.55 L96.03,373.33 L96.91,373.08 L97.79,372.80 L98.67,372.48 L99.55,372.11 L100.43,371.70 L101.31,371.24 L102.18,370.72 L103.06,370.13 L103.94,369.49 L104.82,368.77 L105.70,367.97 L106.58,367.09 L107.46,366.13 L108.34,365.07 L109.22,363.92 L110.10,362.67 L110.97,361.31 L111.85,359.85 L112.73,358.28 L113.61,356.60 L114.49,354.81 L115.37,352.90 L116.25,350.90 L117.13,348.78 L118.01,346.57 L118.89,344.26 L119.77,341.86 L120.64,339.38 L121.52,336.83 L122.40,334.22 L123.28,331.56 L124.16,328.88 L125.04,326.17 L125.92,323.46 L126.80,320.77 L127.68,318.11 L128.56,315.50 L129.44,312.96 L130.31,310.51 L131.19,308.17 L132.07,305.96 L132.95,303.90 L133.83,302.00 L134.71,300.29 L135.59,298.77 L136.47,297.47 L137.35,296.39 L138.23,295.54 L139.11,294.94 L139.98,294.59 L140.86,294.49 L141.74,294.65 L142.62,295.06 L143.50,295.72 L144.38,296.62 L145.26,297.75 L146.14,299.10 L147.02,300.67 L147.90,302.43 L148.78,304.36 L149.65,306.46 L150.53,308.70 L151.41,311.07 L152.29,313.54 L153.17,316.10 L154.05,318.72 L154.93,321.39 L155.81,324.09 L156.69,326.80 L157.57,329.50 L158.45,332.18 L159.32,334.83 L160.20,337.43 L161.08,339.96 L161.96,342.42 L162.84,344.80 L163.72,347.09 L164.60,349.28 L165.48,351.37 L166.36,353.35 L167.24,355.23 L168.12,356.99 L168.99,358.65 L169.87,360.20 L170.75,361.63 L171.63,362.96 L172.51,364.19 L173.39,365.32 L174.27,366.36 L175.15,367.30 L176.03,368.16 L176.91,368.94 L177.78,369.64 L178.66,370.28 L179.54,370.84 L180.42,371.35 L181.30,371.80 L182.18,372.20 L183.06,372.55 L183.94,372.87 L184.82,373.14 L185.70,373.38 L186.58,373.59 L187.45,373.78 L188.33,373.94 L189.21,374.08 L190.09,374.20 L190.97,374.30 L191.85,374.39 L192.73,374.46 L193.61,374.53 L194.49,374.59 L195.37,374.64 L196.25,374.68 L197.12,374.71 L198.00,374.74 L198.88,374.77 L199.76,374.79 L200.64,374.81 L201.52,374.83 L202.40,374.84 L203.28,374.86 L204.16,374.87 L205.04,374.88 L205.92,374.89 L206.79,374.89 L207.67,374.90 L208.55,374.91 L209.43,374.91 L210.31,374.92 L211.19,374.92 L212.07,374.93 L212.95,374.93 L213.83,374.94 L214.71,374.94 L215.59,374.95 L216.46,374.95 L217.34,374.95 L218.22,374.96 L219.10,374.96 L219.98,374.96 L220.86,374.96 L221.74,374.97 L222.62,374.97 L223.50,374.97 L224.38,374.97 L225.26,374.98 L226.13,374.98 L227.01,374.98 L227.89,374.98 L228.77,374.99 L229.65,374.99 L230.53,374.99 L231.41,374.99 L232.29,374.99 L233.17,375.00 L234.05,375.00 L234.93,375.00 L235.80,375.00 L236.68,375.00 L237.56,375.00 L238.44,375.01 L239.32,375.01 L240.20,375.01 L241.08,375.01 L241.96,375.01 L242.84,375.01 L243.72,375.02 L244.59,375.02 L245.47,375.02 L246.35,375.02 L247.23,375.02 L248.11,375.02 L248.99,375.02 L249.87,375.02 L250.75,375.02 L251.63,375.03 L252.51,375.03 L253.39,375.03 L254.26,375.03 L255.14,375.03 L256.02,375.03 L256.90,375.03 L257.78,375.03 L258.66,375.03 L259.54,375.03 L260.42,375.04 L261.30,375.04 L262.18,375.04 L263.06,375.04 L263.93,375.04 L264.81,375.04 L265.69,375.04 L266.57,375.04 L267.45,375.04 L268.33,375.04 L269.21,375.04 L270.09,375.04 L270.97,375.04 L271.85,375.05 L272.73,375.05 L273.60,375.05 L274.48,375.05 L275.36,375.05 L276.24,375.05 L277.12,375.05 L278.00,375.05" stroke="#ff0000" stroke-width="2.6" fill="none" stroke-linejoin="round" stroke-linecap="round"/>
<path d="M67.90,375.02 L68.78,375.00 L69.66,374.99 L70.54,374.97 L71.42,374.95 L72.30,374.93 L73.17,374.92 L74.05,374.90 L74.93,374.88 L75.81,374.86 L76.69,374.84 L77.57,374.82 L78.45,374.80 L79.33,374.78 L80.21,374.75 L81.09,374.73 L81.97,374.71 L82.84,374.68 L83.72,374.66 L84.60,374.64 L85.48,374.61 L86.36,374.58 L87.24,374.56 L88.12,374.53 L89.00,374.50 L89.88,374.47 L90.76,374.44 L91.64,374.41 L92.51,374.37 L93.39,374.34 L94.27,374.30 L95.15,374.27 L96.03,374.23 L96.91,374.19 L97.79,374.16 L98.67,374.12 L99.55,374.07 L100.43,374.03 L101.31,373.99 L102.18,373.94 L103.06,373.89 L103.94,373.84 L104.82,373.79 L105.70,373.74 L106.58,373.69 L107.46,373.63 L108.34,373.57 L109.22,373.51 L110.10,373.45 L110.97,373.38 L111.85,373.31 L112.73,373.24 L113.61,373.17 L114.49,373.09 L115.37,373.01 L116.25,372.93 L117.13,372.84 L118.01,372.75 L118.89,372.66 L119.77,372.56 L120.64,372.46 L121.52,372.35 L122.40,372.23 L123.28,372.12 L124.16,371.99 L125.04,371.86 L125.92,371.72 L126.80,371.57 L127.68,371.42 L128.56,371.26 L129.44,371.09 L130.31,370.91 L131.19,370.71 L132.07,370.51 L132.95,370.29 L133.83,370.07 L134.71,369.82 L135.59,369.57 L136.47,369.29 L137.35,369.00 L138.23,368.70 L139.11,368.37 L139.98,368.02 L140.86,367.65 L141.74,367.26 L142.62,366.84 L143.50,366.40 L144.38,365.93 L145.26,365.44 L146.14,364.91 L147.02,364.35 L147.90,363.77 L148.78,363.14 L149.65,362.49 L150.53,361.80 L151.41,361.07 L152.29,360.30 L153.17,359.50 L154.05,358.66 L154.93,357.78 L155.81,356.87 L156.69,355.91 L157.57,354.92 L158.45,353.90 L159.32,352.84 L160.20,351.75 L161.08,350.65 L161.96,349.52 L162.84,348.37 L163.72,347.23 L164.60,346.08 L165.48,344.95 L166.36,343.85 L167.24,342.79 L168.12,341.77 L168.99,340.83 L169.87,339.97 L170.75,339.21 L171.63,338.56 L172.51,338.03 L173.39,337.64 L174.27,337.40 L175.15,337.31 L176.03,337.36 L176.91,337.58 L177.78,337.93 L178.66,338.43 L179.54,339.05 L180.42,339.79 L181.30,340.63 L182.18,341.56 L183.06,342.56 L183.94,343.61 L184.82,344.71 L185.70,345.83 L186.58,346.98 L187.45,348.12 L188.33,349.27 L189.21,350.40 L190.09,351.51 L190.97,352.60 L191.85,353.67 L192.73,354.70 L193.61,355.70 L194.49,356.66 L195.37,357.58 L196.25,358.47 L197.12,359.32 L198.00,360.13 L198.88,360.90 L199.76,361.64 L200.64,362.34 L201.52,363.00 L202.40,363.63 L203.28,364.23 L204.16,364.79 L205.04,365.32 L205.92,365.83 L206.79,366.30 L207.67,366.75 L208.55,367.17 L209.43,367.57 L210.31,367.94 L211.19,368.29 L212.07,368.63 L212.95,368.94 L213.83,369.23 L214.71,369.51 L215.59,369.77 L216.46,370.01 L217.34,370.25 L218.22,370.46 L219.10,370.67 L219.98,370.86 L220.86,371.05 L221.74,371.22 L222.62,371.39 L223.50,371.54 L224.38,371.69 L225.26,371.83 L226.13,371.96 L227.01,372.09 L227.89,372.21 L228.77,372.32 L229.65,372.43 L230.53,372.54 L231.41,372.64 L232.29,372.73 L233.17,372.82 L234.05,372.91 L234.93,373.00 L235.80,373.08 L236.68,373.15 L237.56,373.23 L238.44,373.30 L239.32,373.37 L240.20,373.43 L241.08,373.50 L241.96,373.56 L242.84,373.62 L243.72,373.67 L244.59,373.73 L245.47,373.78 L246.35,373.83 L247.23,373.88 L248.11,373.93 L248.99,373.98 L249.87,374.02 L250.75,374.06 L251.63,374.11 L252.51,374.15 L253.39,374.19 L254.26,374.22 L255.14,374.26 L256.02,374.30 L256.90,374.33 L257.78,374.37 L258.66,374.40 L259.54,374.43 L260.42,374.46 L261.30,374.49 L262.18,374.52 L263.06,374.55 L263.93,374.58 L264.81,374.60 L265.69,374.63 L266.57,374.65 L267.45,374.68 L268.33,374.70 L269.21,374.73 L270.09,374.75 L270.97,374.77 L271.85,374.79 L272.73,374.81 L273.60,374.84 L274.48,374.86 L275.36,374.87 L276.24,374.89 L277.12,374.91 L278.00,374.93" stroke="#008080" stroke-width="2.6" fill="none" stroke-linejoin="round" stroke-linecap="round"/>
<path d="M67.90,374.11 L68.78,374.10 L69.66,374.10 L70.54,374.09 L71.42,374.09 L72.30,374.08 L73.17,374.08 L74.05,374.07 L74.93,374.07 L75.81,374.06 L76.69,374.05 L77.57,374.05 L78.45,374.04 L79.33,374.04 L80.21,374.03 L81.09,374.02 L81.97,374.02 L82.84,374.01 L83.72,374.00 L84.60,373.99 L85.48,373.99 L86.36,373.98 L87.24,373.97 L88.12,373.96 L89.00,373.96 L89.88,373.95 L90.76,373.94 L91.64,373.93 L92.51,373.92 L93.39,373.91 L94.27,373.90 L95.15,373.89 L96.03,373.88 L96.91,373.87 L97.79,373.86 L98.67,373.85 L99.55,373.84 L100.43,373.83 L101.31,373.82 L102.18,373.81 L103.06,373.80 L103.94,373.78 L104.82,373.77 L105.70,373.76 L106.58,373.75 L107.46,373.73 L108.34,373.72 L109.22,373.70 L110.10,373.69 L110.97,373.67 L111.85,373.66 L112.73,373.64 L113.61,373.63 L114.49,373.61 L115.37,373.59 L116.25,373.57 L117.13,373.56 L118.01,373.54 L118.89,373.52 L119.77,373.50 L120.64,373.48 L121.52,373.45 L122.40,373.43 L123.28,373.41 L124.16,373.39 L125.04,373.36 L125.92,373.34 L126.80,373.31 L127.68,373.28 L128.56,373.26 L129.44,373.23 L130.31,373.20 L131.19,373.17 L132.07,373.13 L132.95,373.10 L133.83,373.07 L134.71,373.03 L135.59,372.99 L136.47,372.95 L137.35,372.91 L138.23,372.87 L139.11,372.83 L139.98,372.78 L140.86,372.74 L141.74,372.69 L142.62,372.63 L143.50,372.58 L144.38,372.52 L145.26,372.46 L146.14,372.40 L147.02,372.33 L147.90,372.26 L148.78,372.19 L149.65,372.11 L150.53,372.02 L151.41,371.93 L152.29,371.84 L153.17,371.74 L154.05,371.63 L154.93,371.52 L155.81,371.40 L156.69,371.27 L157.57,371.13 L158.45,370.98 L159.32,370.82 L160.20,370.65 L161.08,370.47 L161.96,370.27 L162.84,370.06 L163.72,369.84 L164.60,369.60 L165.48,369.35 L166.36,369.07 L167.24,368.78 L168.12,368.47 L168.99,368.14 L169.87,367.78 L170.75,367.41 L171.63,367.01 L172.51,366.58 L173.39,366.13 L174.27,365.66 L175.15,365.16 L176.03,364.63 L176.91,364.08 L177.78,363.50 L178.66,362.89 L179.54,362.25 L180.42,361.59 L181.30,360.90 L182.18,360.19 L183.06,359.46 L183.94,358.70 L184.82,357.93 L185.70,357.14 L186.58,356.34 L187.45,355.53 L188.33,354.72 L189.21,353.91 L190.09,353.12 L190.97,352.34 L191.85,351.58 L192.73,350.86 L193.61,350.19 L194.49,349.57 L195.37,349.01 L196.25,348.53 L197.12,348.13 L198.00,347.82 L198.88,347.61 L199.76,347.49 L200.64,347.48 L201.52,347.57 L202.40,347.77 L203.28,348.06 L204.16,348.44 L205.04,348.91 L205.92,349.45 L206.79,350.06 L207.67,350.73 L208.55,351.44 L209.43,352.18 L210.31,352.96 L211.19,353.75 L212.07,354.56 L212.95,355.37 L213.83,356.18 L214.71,356.98 L215.59,357.77 L216.46,358.55 L217.34,359.31 L218.22,360.05 L219.10,360.76 L219.98,361.45 L220.86,362.12 L221.74,362.76 L222.62,363.38 L223.50,363.96 L224.38,364.52 L225.26,365.05 L226.13,365.56 L227.01,366.04 L227.89,366.49 L228.77,366.92 L229.65,367.33 L230.53,367.71 L231.41,368.07 L232.29,368.40 L233.17,368.72 L234.05,369.02 L234.93,369.29 L235.80,369.55 L236.68,369.79 L237.56,370.02 L238.44,370.23 L239.32,370.43 L240.20,370.62 L241.08,370.79 L241.96,370.95 L242.84,371.10 L243.72,371.24 L244.59,371.37 L245.47,371.49 L246.35,371.61 L247.23,371.72 L248.11,371.82 L248.99,371.92 L249.87,372.01 L250.75,372.09 L251.63,372.17 L252.51,372.25 L253.39,372.32 L254.26,372.38 L255.14,372.45 L256.02,372.51 L256.90,372.57 L257.78,372.62 L258.66,372.68 L259.54,372.73 L260.42,372.77 L261.30,372.82 L262.18,372.86 L263.06,372.91 L263.93,372.95 L264.81,372.99 L265.69,373.02 L266.57,373.06 L267.45,373.09 L268.33,373.13 L269.21,373.16 L270.09,373.19 L270.97,373.22 L271.85,373.25 L272.73,373.28 L273.60,373.30 L274.48,373.33 L275.36,373.36 L276.24,373.38 L277.12,373.40 L278.00,373.43" stroke="#0000ff" stroke-width="2.6" fill="none" stroke-linejoin="round" stroke-linecap="round"/>
<rect x="40" y="28.9" width="261.7" height="363.20000000000005" fill="none" stroke="#000" stroke-width="1.9"/>
<line x1="40" y1="150.3" x2="301.7" y2="150.3" stroke="#000" stroke-width="1.7"/>
<line x1="40" y1="270.8" x2="301.7" y2="270.8" stroke="#000" stroke-width="1.7"/>
<line x1="40" y1="53.6" x2="44.5" y2="53.6" stroke="#000" stroke-width="1.5"/>
<line x1="40" y1="77.5" x2="44.5" y2="77.5" stroke="#000" stroke-width="1.5"/>
<line x1="40" y1="101.6" x2="44.5" y2="101.6" stroke="#000" stroke-width="1.5"/>
<line x1="40" y1="126" x2="44.5" y2="126" stroke="#000" stroke-width="1.5"/>
<line x1="40" y1="174.3" x2="44.5" y2="174.3" stroke="#000" stroke-width="1.5"/>
<line x1="40" y1="198.7" x2="44.5" y2="198.7" stroke="#000" stroke-width="1.5"/>
<line x1="40" y1="222.6" x2="44.5" y2="222.6" stroke="#000" stroke-width="1.5"/>
<line x1="40" y1="247" x2="44.5" y2="247" stroke="#000" stroke-width="1.5"/>
<line x1="40" y1="295.1" x2="44.5" y2="295.1" stroke="#000" stroke-width="1.5"/>
<line x1="40" y1="319.6" x2="44.5" y2="319.6" stroke="#000" stroke-width="1.5"/>
<line x1="40" y1="343.9" x2="44.5" y2="343.9" stroke="#000" stroke-width="1.5"/>
<line x1="40" y1="368.3" x2="44.5" y2="368.3" stroke="#000" stroke-width="1.5"/>
<line x1="92.28" y1="392.1" x2="92.28" y2="387.6" stroke="#000" stroke-width="1.5"/>
<line x1="144.56" y1="392.1" x2="144.56" y2="387.6" stroke="#000" stroke-width="1.5"/>
<line x1="196.84" y1="392.1" x2="196.84" y2="387.6" stroke="#000" stroke-width="1.5"/>
<line x1="249.12" y1="392.1" x2="249.12" y2="387.6" stroke="#000" stroke-width="1.5"/>
<rect x="399.88" y="125.03" width="17.38" height="266.17" fill="url(#hr)" stroke="#f02020" stroke-width="1.5"/>
<rect x="417.26" y="183.28" width="17.38" height="207.92" fill="url(#hg)" stroke="#168a80" stroke-width="1.5"/>
<rect x="434.64" y="134.74" width="17.38" height="256.46" fill="url(#hb)" stroke="#2020f0" stroke-width="1.5"/>
<rect x="487.31" y="280.36" width="17.38" height="110.84" fill="url(#hr)" stroke="#f02020" stroke-width="1.5"/>
<rect x="504.69" y="212.40" width="17.38" height="178.80" fill="url(#hg)" stroke="#168a80" stroke-width="1.5"/>
<rect x="522.07" y="256.09" width="17.38" height="135.11" fill="url(#hb)" stroke="#2020f0" stroke-width="1.5"/>
<rect x="574.74" y="285.21" width="17.38" height="105.99" fill="url(#hr)" stroke="#f02020" stroke-width="1.5"/>
<rect x="592.12" y="294.92" width="17.38" height="96.28" fill="url(#hg)" stroke="#168a80" stroke-width="1.5"/>
<rect x="609.50" y="299.77" width="17.38" height="91.43" fill="url(#hb)" stroke="#2020f0" stroke-width="1.5"/>
<rect x="382.6" y="27.8" width="261.4" height="363.4" fill="none" stroke="#000" stroke-width="1.6"/>
<line x1="382.6" y1="294.92" x2="387.1" y2="294.92" stroke="#000" stroke-width="1.5"/>
<line x1="382.6" y1="197.84" x2="387.1" y2="197.84" stroke="#000" stroke-width="1.5"/>
<line x1="382.6" y1="100.76" x2="387.1" y2="100.76" stroke="#000" stroke-width="1.5"/>
<line x1="425.95" y1="391.2" x2="425.95" y2="395.7" stroke="#000" stroke-width="1.5"/>
<line x1="513.38" y1="391.2" x2="513.38" y2="395.7" stroke="#000" stroke-width="1.5"/>
<line x1="600.81" y1="391.2" x2="600.81" y2="395.7" stroke="#000" stroke-width="1.5"/>
<rect x="549.1" y="45.3" width="19.5" height="19.4" fill="url(#hr)" stroke="#f02020" stroke-width="1.8"/>
<rect x="549.1" y="67.8" width="19.5" height="19.4" fill="url(#hg)" stroke="#168a80" stroke-width="1.8"/>
<rect x="549.1" y="90.3" width="19.5" height="19.4" fill="url(#hb)" stroke="#2020f0" stroke-width="1.8"/>
<g transform="translate(24.50,410.60) scale(1,1)"><text x="0" y="0" font-size="18" fill="#000">526</text></g>
<g transform="translate(76.78,410.60) scale(1,1)"><text x="0" y="0" font-size="18" fill="#000">528</text></g>
<g transform="translate(129.06,410.60) scale(1,1)"><text x="0" y="0" font-size="18" fill="#000">530</text></g>
<g transform="translate(181.84,410.60) scale(1,1)"><text x="0" y="0" font-size="18" fill="#000">532</text></g>
<g transform="translate(233.62,410.60) scale(1,1)"><text x="0" y="0" font-size="18" fill="#000">534</text></g>
<g transform="translate(285.90,410.60) scale(1,1)"><text x="0" y="0" font-size="18" fill="#000">536</text></g>
<g transform="translate(90.00,439.40) scale(1,1)"><text x="0" y="0" font-size="18.3" fill="#000">Binding energy (eV)</text></g>
<g transform="translate(46.70,52.50) scale(1,1)"><text x="0" y="0" font-size="18" fill="#000">Pristine</text></g>
<g transform="translate(47.20,171.80) scale(1,1)"><text x="0" y="0" font-size="18" fill="#000">Plasma</text></g>
<g transform="translate(49.50,292.80) scale(1,1)"><text x="0" y="0" font-size="18" fill="#000">Laser</text></g>
<g transform="translate(73.50,81.50) scale(1,1.08)"><text x="0" y="0" font-size="19.5" fill="#ff0000">O</text></g>
<g transform="translate(88.60,86.10) scale(1,1.08)"><path transform="scale(0.00562,-0.00562)" d="M763 0L583 0L583 1147C540 1106 483 1065 413 1024C343 983 280 952 225 931L225 1105C325 1152 413 1209 488 1275C563 1341 616 1405 647 1466L763 1466Z" fill="#ff0000"/></g>
<g transform="translate(65.00,105.00) scale(1,1.08)"><text x="0" y="0" font-size="19.5" fill="#ff0000">55%</text></g>
<g transform="translate(195.80,62.10) scale(1,1.08)"><text x="0" y="0" font-size="19.5" fill="#008080">O</text></g>
<g transform="translate(211.90,66.90) scale(1,1.08)"><text x="0" y="0" font-size="11.5" fill="#008080">2</text></g>
<g transform="translate(187.70,86.70) scale(1,1.08)"><text x="0" y="0" font-size="19.5" fill="#008080">23%</text></g>
<g transform="translate(240.90,98.70) scale(1,1.08)"><text x="0" y="0" font-size="19.5" fill="#0000ff">O</text></g>
<g transform="translate(257.10,103.20) scale(1,1.08)"><text x="0" y="0" font-size="11.5" fill="#0000ff">3</text></g>
<g transform="translate(232.70,122.00) scale(1,1.08)"><text x="0" y="0" font-size="19.5" fill="#0000ff">22%</text></g>
<g transform="translate(83.00,207.20) scale(1,1.08)"><text x="0" y="0" font-size="19.5" fill="#ff0000">O</text></g>
<g transform="translate(99.00,212.40) scale(1,1.08)"><path transform="scale(0.00562,-0.00562)" d="M763 0L583 0L583 1147C540 1106 483 1065 413 1024C343 983 280 952 225 931L225 1105C325 1152 413 1209 488 1275C563 1341 616 1405 647 1466L763 1466Z" fill="#ff0000"/></g>
<g transform="translate(75.20,230.40) scale(1,1.08)"><text x="0" y="0" font-size="19.5" fill="#ff0000">43%</text></g>
<g transform="translate(202.50,176.00) scale(1,1.08)"><text x="0" y="0" font-size="19.5" fill="#008080">O</text></g>
<g transform="translate(218.00,181.10) scale(1,1.08)"><text x="0" y="0" font-size="11.5" fill="#008080">2</text></g>
<g transform="translate(194.30,199.60) scale(1,1.08)"><text x="0" y="0" font-size="19.5" fill="#008080">37%</text></g>
<g transform="translate(253.70,224.70) scale(1,1.08)"><text x="0" y="0" font-size="19.5" fill="#0000ff">O</text></g>
<g transform="translate(269.80,229.30) scale(1,1.08)"><text x="0" y="0" font-size="11.5" fill="#0000ff">3</text></g>
<g transform="translate(245.10,247.90) scale(1,1.08)"><text x="0" y="0" font-size="19.5" fill="#0000ff">20%</text></g>
<g transform="translate(83.00,321.50) scale(1,1.08)"><text x="0" y="0" font-size="19.5" fill="#ff0000">O</text></g>
<g transform="translate(98.80,326.50) scale(1,1.08)"><path transform="scale(0.00562,-0.00562)" d="M763 0L583 0L583 1147C540 1106 483 1065 413 1024C343 983 280 952 225 931L225 1105C325 1152 413 1209 488 1275C563 1341 616 1405 647 1466L763 1466Z" fill="#ff0000"/></g>
<g transform="translate(74.80,345.10) scale(1,1.08)"><text x="0" y="0" font-size="19.5" fill="#ff0000">53%</text></g>
<g transform="translate(195.80,302.70) scale(1,1.08)"><text x="0" y="0" font-size="19.5" fill="#008080">O</text></g>
<g transform="translate(211.70,307.20) scale(1,1.08)"><text x="0" y="0" font-size="11.5" fill="#008080">2</text></g>
<g transform="translate(187.40,326.00) scale(1,1.08)"><text x="0" y="0" font-size="19.5" fill="#008080">28%</text></g>
<g transform="translate(247.30,334.90) scale(1,1.08)"><text x="0" y="0" font-size="19.5" fill="#0000ff">O</text></g>
<g transform="translate(264.00,339.80) scale(1,1.08)"><text x="0" y="0" font-size="11.5" fill="#0000ff">3</text></g>
<g transform="translate(239.40,358.20) scale(1,1.08)"><path transform="scale(0.00952,-0.00952)" d="M763 0L583 0L583 1147C540 1106 483 1065 413 1024C343 983 280 952 225 931L225 1105C325 1152 413 1209 488 1275C563 1341 616 1405 647 1466L763 1466Z" fill="#0000ff"/><text x="10.84" y="0" font-size="19.5" fill="#0000ff">9%</text></g>
<g transform="translate(367.10,396.90) scale(1,1)"><text x="0" y="0" font-size="18" fill="#000">0</text></g>
<g transform="translate(357.10,299.82) scale(1,1)"><text x="0" y="0" font-size="18" fill="#000">20</text></g>
<g transform="translate(357.10,202.74) scale(1,1)"><text x="0" y="0" font-size="18" fill="#000">40</text></g>
<g transform="translate(357.10,105.66) scale(1,1)"><text x="0" y="0" font-size="18" fill="#000">60</text></g>
<g transform="translate(415.95,418.40) scale(1,1.05)"><text x="0" y="0" font-size="18" fill="#000">O</text></g>
<g transform="translate(430.45,424.90) scale(1,1.05)"><path transform="scale(0.00513,-0.00513)" d="M763 0L583 0L583 1147C540 1106 483 1065 413 1024C343 983 280 952 225 931L225 1105C325 1152 413 1209 488 1275C563 1341 616 1405 647 1466L763 1466Z" fill="#000"/></g>
<g transform="translate(503.38,418.40) scale(1,1.05)"><text x="0" y="0" font-size="18" fill="#000">O</text></g>
<g transform="translate(518.88,424.90) scale(1,1.05)"><text x="0" y="0" font-size="10.5" fill="#000">2</text></g>
<g transform="translate(590.81,418.40) scale(1,1.05)"><text x="0" y="0" font-size="18" fill="#000">O</text></g>
<g transform="translate(606.31,424.90) scale(1,1.05)"><text x="0" y="0" font-size="10.5" fill="#000">3</text></g>
<g transform="translate(574.00,60.50) scale(1,1)"><text x="0" y="0" font-size="18" fill="#000">Pristine</text></g>
<g transform="translate(574.00,82.40) scale(1,1)"><text x="0" y="0" font-size="18" fill="#000">Plasma</text></g>
<g transform="translate(574.00,104.60) scale(1,1)"><text x="0" y="0" font-size="18" fill="#000">Laser</text></g>
<g transform="translate(158.10,18.50) scale(1,1)"><text x="0" y="0" font-size="20" fill="#000">(a)</text></g>
<g transform="translate(500.45,18.50) scale(1,1)"><text x="0" y="0" font-size="20" fill="#000">(b)</text></g>
<text transform="translate(17.3,209.7) rotate(-90)" font-size="18.3" text-anchor="middle">Intensity (a.u.)</text>
<text transform="translate(350.1,209.45) rotate(-90)" font-size="18.3" text-anchor="middle">Area ratio (%)</text>
</svg>
</body></html>
